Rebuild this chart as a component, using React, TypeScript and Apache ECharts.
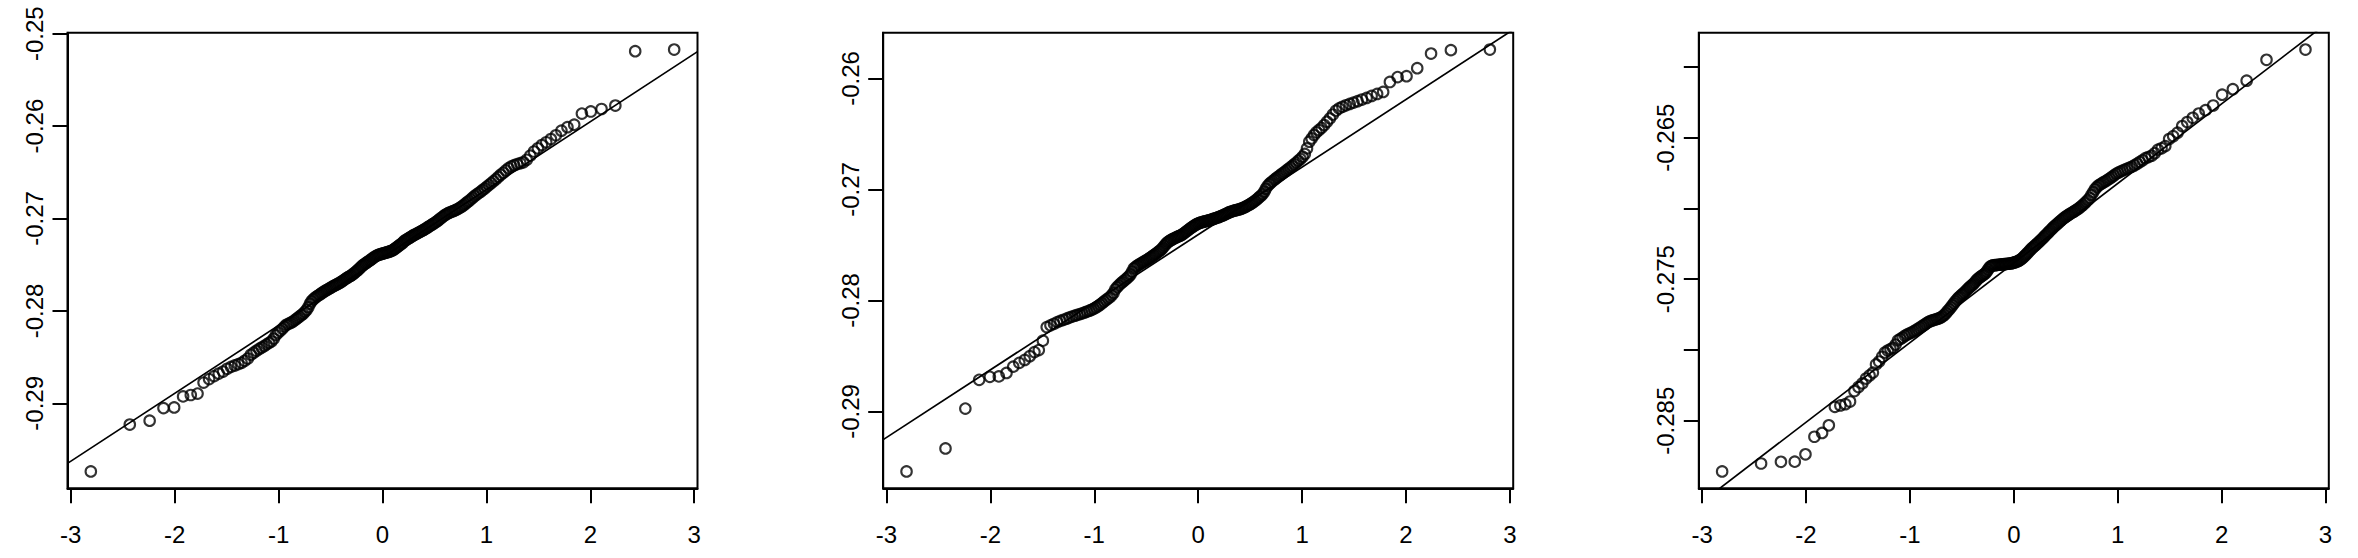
import React, { useEffect, useRef } from "react";
import * as echarts from "echarts";

// Theoretical normal quantiles (positive half, ascending) for n = 200
const normalQuantilesPositive = [
  0.006, 0.019, 0.031, 0.044, 0.056, 0.069, 0.082, 0.094, 0.107, 0.119,
  0.132, 0.145, 0.157, 0.170, 0.183, 0.196, 0.208, 0.221, 0.234, 0.247,
  0.260, 0.273, 0.286, 0.299, 0.312, 0.326, 0.339, 0.352, 0.366, 0.379,
  0.392, 0.406, 0.420, 0.433, 0.447, 0.461, 0.475, 0.489, 0.503, 0.518,
  0.532, 0.546, 0.561, 0.576, 0.590, 0.605, 0.620, 0.636, 0.651, 0.667,
  0.683, 0.698, 0.714, 0.731, 0.747, 0.764, 0.781, 0.798, 0.815, 0.832,
  0.850, 0.868, 0.887, 0.906, 0.925, 0.944, 0.964, 0.984, 1.005, 1.026,
  1.047, 1.069, 1.092, 1.115, 1.138, 1.163, 1.187, 1.213, 1.240, 1.267,
  1.296, 1.326, 1.356, 1.388, 1.422, 1.458, 1.495, 1.534, 1.576, 1.621,
  1.669, 1.722, 1.780, 1.845, 1.919, 2.005, 2.108, 2.241, 2.432, 2.807,
];

// Sorted sample values, panel 1
const sampleA = [
  -0.29737, -0.29230, -0.29188, -0.29052, -0.29045, -0.28925, -0.28910, -0.28895, -0.28775, -0.28738,
  -0.28706, -0.28678, -0.28656, -0.28626, -0.28606, -0.28590, -0.28576, -0.28562, -0.28540, -0.28515,
  -0.28475, -0.28452, -0.28432, -0.28412, -0.28396, -0.28380, -0.28362, -0.28346, -0.28330, -0.28300,
  -0.28262, -0.28236, -0.28214, -0.28194, -0.28170, -0.28150, -0.28140, -0.28130, -0.28120, -0.28105,
  -0.28090, -0.28075, -0.28060, -0.28046, -0.28030, -0.28010, -0.27990, -0.27960, -0.27922, -0.27896,
  -0.27876, -0.27860, -0.27846, -0.27835, -0.27824, -0.27812, -0.27801, -0.27790, -0.27780, -0.27771,
  -0.27762, -0.27752, -0.27743, -0.27734, -0.27725, -0.27717, -0.27709, -0.27701, -0.27692, -0.27682,
  -0.27672, -0.27661, -0.27651, -0.27641, -0.27632, -0.27624, -0.27615, -0.27604, -0.27592, -0.27580,
  -0.27567, -0.27554, -0.27540, -0.27526, -0.27513, -0.27501, -0.27491, -0.27481, -0.27471, -0.27461,
  -0.27451, -0.27441, -0.27430, -0.27420, -0.27410, -0.27402, -0.27396, -0.27390, -0.27386, -0.27382,
  -0.27378, -0.27374, -0.27370, -0.27366, -0.27362, -0.27357, -0.27352, -0.27346, -0.27338, -0.27328,
  -0.27317, -0.27306, -0.27295, -0.27284, -0.27273, -0.27262, -0.27245, -0.27236, -0.27227, -0.27218,
  -0.27209, -0.27200, -0.27191, -0.27182, -0.27174, -0.27166, -0.27158, -0.27150, -0.27142, -0.27134,
  -0.27126, -0.27117, -0.27107, -0.27097, -0.27087, -0.27077, -0.27067, -0.27057, -0.27047, -0.27036,
  -0.27024, -0.27011, -0.26998, -0.26985, -0.26972, -0.26960, -0.26950, -0.26941, -0.26933, -0.26926,
  -0.26919, -0.26912, -0.26903, -0.26893, -0.26882, -0.26870, -0.26856, -0.26840, -0.26825, -0.26810,
  -0.26793, -0.26775, -0.26757, -0.26740, -0.26725, -0.26710, -0.26692, -0.26675, -0.26655, -0.26636,
  -0.26617, -0.26596, -0.26574, -0.26550, -0.26527, -0.26505, -0.26480, -0.26455, -0.26437, -0.26423,
  -0.26412, -0.26402, -0.26392, -0.26365, -0.26320, -0.26275, -0.26240, -0.26205, -0.26175, -0.26140,
  -0.26100, -0.26050, -0.26012, -0.25985, -0.25865, -0.25842, -0.25815, -0.25778, -0.25190, -0.25172,
];

// Sorted sample values, panel 2
const sampleB = [
  -0.29540, -0.29333, -0.28974, -0.28715, -0.28688, -0.28684, -0.28653, -0.28596, -0.28562, -0.28536,
  -0.28502, -0.28465, -0.28447, -0.28362, -0.28240, -0.28224, -0.28210, -0.28195, -0.28184, -0.28174,
  -0.28164, -0.28154, -0.28145, -0.28137, -0.28130, -0.28123, -0.28116, -0.28108, -0.28100, -0.28092,
  -0.28084, -0.28075, -0.28064, -0.28052, -0.28038, -0.28024, -0.28010, -0.27996, -0.27983, -0.27970,
  -0.27952, -0.27932, -0.27900, -0.27880, -0.27864, -0.27848, -0.27836, -0.27823, -0.27810, -0.27797,
  -0.27783, -0.27766, -0.27740, -0.27712, -0.27700, -0.27690, -0.27681, -0.27672, -0.27664, -0.27656,
  -0.27648, -0.27640, -0.27632, -0.27624, -0.27615, -0.27606, -0.27597, -0.27588, -0.27579, -0.27569,
  -0.27559, -0.27549, -0.27538, -0.27524, -0.27508, -0.27493, -0.27480, -0.27470, -0.27462, -0.27455,
  -0.27448, -0.27442, -0.27436, -0.27430, -0.27425, -0.27420, -0.27415, -0.27408, -0.27400, -0.27391,
  -0.27382, -0.27373, -0.27364, -0.27355, -0.27346, -0.27338, -0.27330, -0.27322, -0.27315, -0.27309,
  -0.27304, -0.27300, -0.27296, -0.27293, -0.27290, -0.27287, -0.27284, -0.27281, -0.27278, -0.27274,
  -0.27270, -0.27266, -0.27262, -0.27258, -0.27254, -0.27250, -0.27245, -0.27240, -0.27235, -0.27230,
  -0.27224, -0.27218, -0.27212, -0.27206, -0.27201, -0.27197, -0.27193, -0.27189, -0.27186, -0.27183,
  -0.27180, -0.27176, -0.27171, -0.27166, -0.27160, -0.27153, -0.27146, -0.27139, -0.27131, -0.27122,
  -0.27113, -0.27103, -0.27092, -0.27080, -0.27068, -0.27056, -0.27042, -0.27020, -0.26994, -0.26970,
  -0.26953, -0.26940, -0.26927, -0.26914, -0.26902, -0.26890, -0.26878, -0.26866, -0.26854, -0.26842,
  -0.26829, -0.26816, -0.26802, -0.26788, -0.26773, -0.26758, -0.26742, -0.26725, -0.26705, -0.26680,
  -0.26630, -0.26570, -0.26540, -0.26510, -0.26485, -0.26465, -0.26445, -0.26420, -0.26390, -0.26360,
  -0.26325, -0.26290, -0.26270, -0.26255, -0.26242, -0.26230, -0.26218, -0.26205, -0.26190, -0.26176,
  -0.26158, -0.26140, -0.26122, -0.26032, -0.25988, -0.25980, -0.25908, -0.25776, -0.25745, -0.25740,
];

// Sorted sample values, panel 3
const sampleC = [
  -0.28858, -0.28802, -0.28790, -0.28789, -0.28737, -0.28613, -0.28586, -0.28532, -0.28402, -0.28392,
  -0.28383, -0.28364, -0.28290, -0.28262, -0.28236, -0.28202, -0.28180, -0.28160, -0.28102, -0.28082,
  -0.28048, -0.28018, -0.28004, -0.27994, -0.27985, -0.27962, -0.27932, -0.27922, -0.27912, -0.27900,
  -0.27891, -0.27884, -0.27877, -0.27869, -0.27861, -0.27852, -0.27843, -0.27834, -0.27825, -0.27816,
  -0.27807, -0.27800, -0.27795, -0.27791, -0.27787, -0.27783, -0.27779, -0.27775, -0.27769, -0.27761,
  -0.27751, -0.27739, -0.27725, -0.27712, -0.27698, -0.27684, -0.27670, -0.27656, -0.27643, -0.27631,
  -0.27622, -0.27612, -0.27603, -0.27594, -0.27584, -0.27572, -0.27562, -0.27553, -0.27545, -0.27536,
  -0.27526, -0.27514, -0.27502, -0.27494, -0.27486, -0.27479, -0.27472, -0.27466, -0.27458, -0.27446,
  -0.27432, -0.27417, -0.27408, -0.27404, -0.27402, -0.27401, -0.27400, -0.27399, -0.27398, -0.27397,
  -0.27396, -0.27395, -0.27394, -0.27393, -0.27392, -0.27391, -0.27390, -0.27389, -0.27387, -0.27385,
  -0.27382, -0.27379, -0.27375, -0.27371, -0.27366, -0.27360, -0.27352, -0.27343, -0.27334, -0.27325,
  -0.27315, -0.27305, -0.27295, -0.27285, -0.27276, -0.27268, -0.27260, -0.27251, -0.27242, -0.27233,
  -0.27224, -0.27215, -0.27205, -0.27195, -0.27185, -0.27175, -0.27165, -0.27155, -0.27145, -0.27135,
  -0.27126, -0.27117, -0.27108, -0.27099, -0.27090, -0.27081, -0.27072, -0.27064, -0.27057, -0.27050,
  -0.27043, -0.27036, -0.27030, -0.27024, -0.27017, -0.27010, -0.27002, -0.26994, -0.26984, -0.26974,
  -0.26963, -0.26952, -0.26940, -0.26926, -0.26905, -0.26885, -0.26865, -0.26850, -0.26838, -0.26830,
  -0.26822, -0.26814, -0.26806, -0.26797, -0.26788, -0.26778, -0.26767, -0.26756, -0.26748, -0.26740,
  -0.26733, -0.26726, -0.26719, -0.26712, -0.26705, -0.26695, -0.26684, -0.26672, -0.26660, -0.26645,
  -0.26637, -0.26628, -0.26610, -0.26585, -0.26575, -0.26560, -0.26510, -0.26490, -0.26465, -0.26418,
  -0.26390, -0.26360, -0.26330, -0.26306, -0.26273, -0.26197, -0.26158, -0.26098, -0.25950, -0.25878,
];

// Reference (qq) lines: intercept and slope per panel
const qqIntercept = [-0.27422, -0.27407, -0.27386];
const qqSlope = [0.00735, 0.00609, 0.005624];

// Tick values and labelled ticks
const xTickValues = [-3, -2, -1, 0, 1, 2, 3];
const yTickValuesA = [-0.29, -0.28, -0.27, -0.26, -0.25];
const yTickValuesB = [-0.29, -0.28, -0.27, -0.26];
const yTickValuesC = [-0.285, -0.28, -0.275, -0.27, -0.265, -0.26];
const yLabelValuesC = [-0.285, -0.275, -0.265];

const W = 2358;
const H = 558;
const PANEL_LEFT = [67.5, 883.2, 1698.8];
const PANEL_TOP = 32.7;
const PANEL_W = 630;
const PANEL_H = 455.6;
const TICK_LEN = 15;
const X_LABEL_GAP = 34;
const Y_LABEL_GAP = 21;
const FONT_FAMILY = '"Liberation Sans", Arial, Helvetica, sans-serif';

export default function App() {
  const ref = useRef<HTMLDivElement>(null);

  useEffect(() => {
    if (!ref.current) return;
    const chart = echarts.init(ref.current, null, { renderer: "svg" });

    const theo = [
      ...normalQuantilesPositive.slice().reverse().map((v) => -v),
      ...normalQuantilesPositive,
    ];
    const samples = [sampleA, sampleB, sampleC];
    const yTicks = [yTickValuesA, yTickValuesB, yTickValuesC];
    const yLabels = [yTickValuesA, yTickValuesB, yLabelValuesC];

    // R's default axis range: data range extended by 4% at each end
    const pad = (lo: number, hi: number) => {
      const r = hi - lo;
      return [lo - 0.04 * r, hi + 0.04 * r];
    };
    const [xMin, xMax] = pad(theo[0], theo[theo.length - 1]);

    const grids: any[] = [];
    const xAxes: any[] = [];
    const yAxes: any[] = [];
    const series: any[] = [];

    samples.forEach((s, k) => {
      const [yMin, yMax] = pad(Math.min(...s), Math.max(...s));
      grids.push({
        left: PANEL_LEFT[k],
        top: PANEL_TOP,
        width: PANEL_W,
        height: PANEL_H,
        show: true,
        borderColor: "#000",
        borderWidth: 2,
        backgroundColor: "rgba(0,0,0,0)",
        containLabel: false,
      });
      xAxes.push({
        gridIndex: k,
        type: "value",
        position: "bottom",
        min: xMin,
        max: xMax,
        axisLine: { show: true, onZero: false, lineStyle: { color: "#000", width: 2 } },
        splitLine: { show: false },
        axisTick: {
          show: true,
          inside: false,
          customValues: xTickValues,
          length: TICK_LEN,
          lineStyle: { color: "#000", width: 2 },
        },
        axisLabel: {
          show: true,
          customValues: xTickValues,
          margin: X_LABEL_GAP,
          fontSize: 24,
          color: "#000",
          fontFamily: FONT_FAMILY,
          formatter: (v: number) => String(v),
        },
      });
      yAxes.push({
        gridIndex: k,
        type: "value",
        position: "left",
        min: yMin,
        max: yMax,
        axisLine: { show: true, onZero: false, lineStyle: { color: "#000", width: 2 } },
        splitLine: { show: false },
        axisTick: {
          show: true,
          inside: false,
          customValues: yTicks[k],
          length: TICK_LEN,
          lineStyle: { color: "#000", width: 2 },
        },
        axisLabel: {
          show: true,
          customValues: yLabels[k],
          rotate: 90,
          margin: Y_LABEL_GAP,
          fontSize: 24,
          color: "#000",
          fontFamily: FONT_FAMILY,
          formatter: (v: number) => String(v),
        },
      });

      series.push({
        type: "scatter",
        xAxisIndex: k,
        yAxisIndex: k,
        data: theo.map((x, i) => [x, s[i]]),
        symbol: "circle",
        symbolSize: 10.5,
        itemStyle: {
          color: "rgba(0,0,0,0)",
          borderColor: "#000",
          borderWidth: 2.1,
        },
        silent: true,
        z: 3,
      });

      const a = qqIntercept[k];
      const b = qqSlope[k];
      series.push({
        type: "line",
        xAxisIndex: k,
        yAxisIndex: k,
        data: [
          [xMin, a + b * xMin],
          [xMax, a + b * xMax],
        ],
        symbol: "none",
        showSymbol: false,
        lineStyle: { color: "#000", width: 1.7 },
        clip: true,
        silent: true,
        z: 2,
      });
    });

    chart.setOption({
      animation: false,
      backgroundColor: "#fff",
      grid: grids,
      xAxis: xAxes,
      yAxis: yAxes,
      series,
    });

    return () => {
      chart.dispose();
    };
  }, []);

  return (
    <div
      ref={ref}
      style={{ position: "absolute", left: 0, top: 0, width: W, height: H }}
    />
  );
}
